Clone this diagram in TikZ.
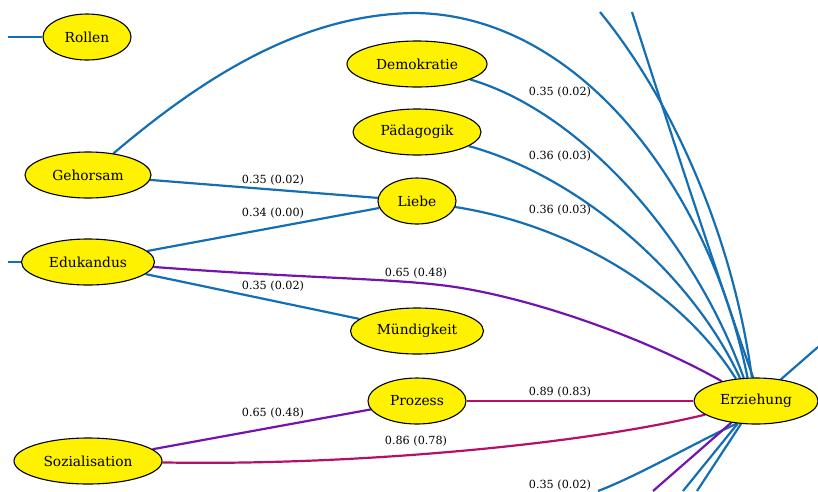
\documentclass[tikz,border=0pt]{standalone}
\usepackage{fontspec}
\setmainfont{DejaVu Serif}
\usepackage{xcolor}
\usepackage{tikz}
\usetikzlibrary{shapes.geometric, positioning, calc, backgrounds}

\definecolor{linkblue}{RGB}{20,110,180}
\definecolor{linkpurple}{RGB}{115,20,175}
\definecolor{linkmagenta}{RGB}{180,15,105}

\begin{document}
\begin{tikzpicture}[x=1pt, y=-1pt,
    concept/.style={ellipse, draw=black, fill=yellow, line width=1.1pt, inner sep=0pt,
        minimum height=46pt, font=\fontsize{13.8}{16}\selectfont},
    weaklink/.style={draw=linkblue, line width=2.2pt},
    midlink/.style={draw=linkpurple, line width=2.2pt},
    stronglink/.style={draw=linkmagenta, line width=2.2pt},
    weight/.style={font=\fontsize{11.2}{13}\selectfont, inner sep=0pt}]
\useasboundingbox (0,0) rectangle (818,491);

% Concepts: name/x/y/width/text
\foreach \id/\x/\y/\w/\txt in {
    rollen/87/37/88/Rollen,
    demokratie/417/64/140/Demokratie,
    paedagogik/417/132/128/Pädagogik,
    gehorsam/88/175/126/Gehorsam,
    liebe/417/201/78/Liebe,
    edukandus/88/262/133/Edukandus,
    muendigkeit/417/331/133/Mündigkeit,
    prozess/417/401/98/Prozess,
    sozialisation/88/461/148/Sozialisation,
    erziehung/756/401/124/Erziehung} {
    \node[concept, minimum width=\w] (\id) at (\x,\y) {\txt};
}

% Loose ends, cut by the frame
\coordinate (cutR) at (8,37);
\coordinate (cutE) at (8,262);
\coordinate (cutT1) at (600,12);
\coordinate (cutT2) at (632,12);
\coordinate (cutX) at (818,347);
\coordinate (cutB1) at (598,491);
\coordinate (cutB2) at (653,491);
\coordinate (cutB3) at (683,491);
\coordinate (cutB4) at (697,491);

\begin{scope}[on background layer]
    % weak links
    \draw[weaklink] (cutR) -- (rollen);
    \draw[weaklink] (cutE) -- (edukandus);
    \draw[weaklink] (gehorsam) -- (liebe);
    \draw[weaklink] (edukandus) -- (liebe);
    \draw[weaklink] (edukandus) -- (muendigkeit);
    \draw[weaklink] (gehorsam) .. controls (200,80) and (300,14) .. (415,13)
        .. controls (580,15) and (710,190) .. (erziehung.110);
    \draw[weaklink] (cutT1) .. controls (680,110) and (735,250) .. (erziehung.100);
    \draw[weaklink] (cutT2) .. controls (660,100) and (712,260) .. (erziehung.97);
    \draw[weaklink] (demokratie) .. controls (575,110) and (690,230) .. (erziehung.118);
    \draw[weaklink] (paedagogik) .. controls (575,175) and (690,270) .. (erziehung.125);
    \draw[weaklink] (liebe) .. controls (570,225) and (680,290) .. (erziehung.132);
    \draw[weaklink] (erziehung) -- (cutX);
    \draw[weaklink] (erziehung.-130) .. controls (700,440) and (640,475) .. (cutB1);
    \draw[weaklink] (erziehung) -- (cutB3);
    \draw[weaklink] (erziehung) -- (cutB4);
    % middle links
    \draw[midlink] (edukandus) .. controls (300,278) and (380,278) .. (440,285)
        .. controls (520,294) and (640,335) .. (erziehung.150);
    \draw[midlink] (sozialisation) -- (prozess);
    \draw[midlink] (erziehung) -- (cutB2);
    % strong links
    \draw[stronglink] (prozess) -- (erziehung);
    \draw[stronglink] (sozialisation) .. controls (350,466) and (580,445) .. (erziehung.195);
\end{scope}

% Link weights
\foreach \lx/\ly/\txt [count=\k] in {
    273/180/{0.35 (0.02)},
    273/213/{0.34 (0.00)},
    273/286/{0.35 (0.02)},
    416/273/{0.65 (0.48)},
    560/92/{0.35 (0.02)},
    560/156/{0.36 (0.03)},
    560/210/{0.36 (0.03)},
    273/413/{0.65 (0.48)},
    416/441/{0.86 (0.78)},
    560/392/{0.89 (0.83)},
    560/485/{0.35 (0.02)}} {
    \node[weight] (w\k) at (\lx,\ly) {\txt};
}

\end{tikzpicture}
\end{document}
